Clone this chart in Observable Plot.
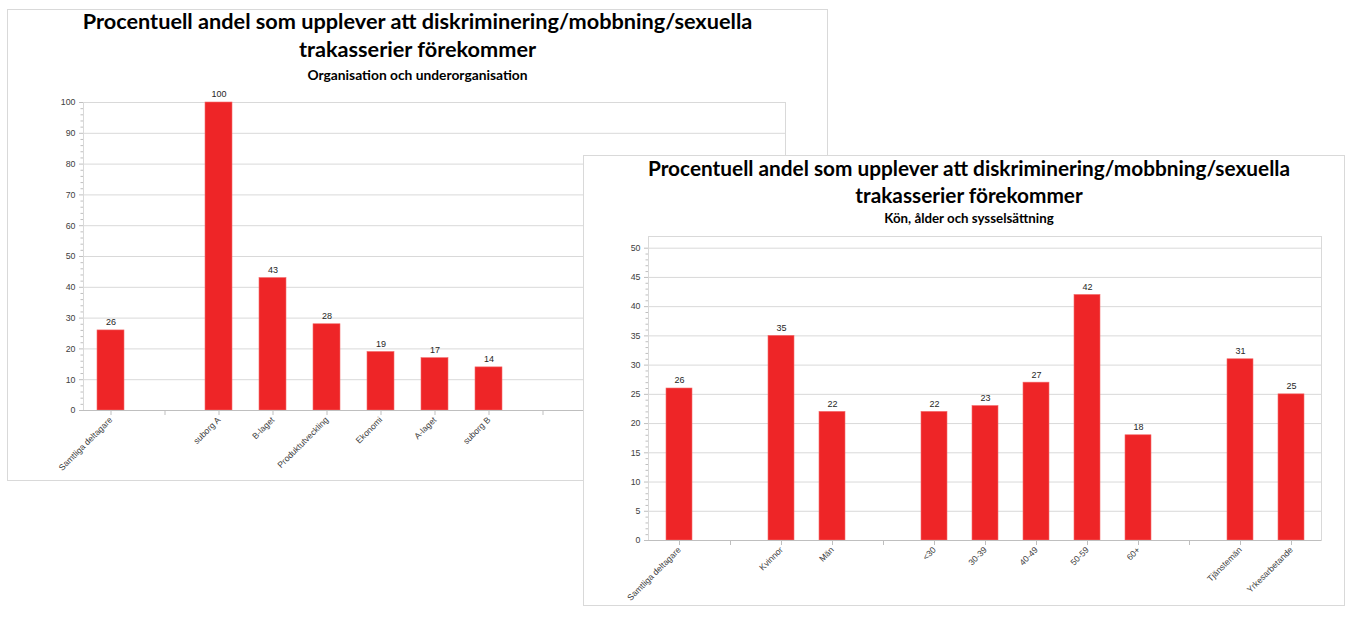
<!DOCTYPE html>
<html>
<head>
<meta charset="utf-8">
<script src="https://cdn.jsdelivr.net/npm/d3@7"></script>
<script src="https://cdn.jsdelivr.net/npm/@observablehq/plot@0.6"></script>
<style>
  html, body { margin: 0; padding: 0; background: #ffffff; }
  body { width: 1366px; height: 625px; position: relative; overflow: hidden; font-family: Lato, "Open Sans", sans-serif; }
  .panel { position: absolute; box-sizing: border-box; border: 1px solid #d9d9d9; background: #ffffff; }
  .t { position: absolute; left: 0; right: 0; text-align: center; font-weight: bold; color: #000; white-space: nowrap; }
  .panel svg { position: absolute; left: 0; }
</style>
</head>
<body>
<div class="panel" id="p1" style="left:7px; top:9px; width:821px; height:472px;">
  <div class="t" style="top:-2px; font-size:21.7px; line-height:26px;">Procentuell andel som upplever att diskriminering/mobbning/sexuella</div>
  <div class="t" style="top:26px; font-size:21.7px; line-height:26px;">trakasserier förekommer</div>
  <div class="t" style="top:57px; font-size:13.8px; line-height:16px;">Organisation och underorganisation</div>
  <div id="c1"></div>
</div>
<div class="panel" id="p2" style="left:583px; top:155px; width:762px; height:451px;">
  <div class="t" style="top:-1px; left:10px; font-size:20.8px; line-height:26px;">Procentuell andel som upplever att diskriminering/mobbning/sexuella</div>
  <div class="t" style="top:26px; left:10px; font-size:20.8px; line-height:26px;">trakasserier förekommer</div>
  <div class="t" style="top:54px; left:10px; font-size:13.3px; line-height:16px;">Kön, ålder och sysselsättning</div>
  <div id="c2"></div>
</div>
<script>
// ---- Data: chart 1 (Organisation och underorganisation) ----
const labels1 = ["Samtliga deltagare", "", "suborg A", "B-laget", "Produktutveckling", "Ekonomi", "A-laget", "suborg B", "", "", "", "", ""];
const values1 = [26, null, 100, 43, 28, 19, 17, 14, null, null, null, null, null];
const yTicks1 = [0, 10, 20, 30, 40, 50, 60, 70, 80, 90, 100];

// ---- Data: chart 2 (Kön, ålder och sysselsättning) ----
const labels2 = ["Samtliga deltagare", "", "Kvinnor", "Män", "", "<30", "30-39", "40-49", "50-59", "60+", "", "Tjänstemän", "Yrkesarbetande"];
const values2 = [26, null, 35, 22, null, 22, 23, 27, 42, 18, null, 31, 25];
const yTicks2 = [0, 5, 10, 15, 20, 25, 30, 35, 40, 45, 50];

const RED = "#ee2527";
const GRID = "#d9d9d9";
const AXIS = "#bfbfbf";
const TXT = "#404040";

function makeChart(labels, values, yTicks, yMax, minorStep, opts) {
  const rows = labels.map((l, i) => ({i, label: l, value: values[i]}));
  const bars = rows.filter(d => d.value != null);
  const minor = d3.range(0, yTicks[yTicks.length - 1] + 1e-9, minorStep).filter(v => !yTicks.includes(v));
  return Plot.plot({
    width: opts.width,
    height: opts.height,
    marginLeft: opts.ml,
    marginRight: opts.mr,
    marginTop: opts.mt,
    marginBottom: opts.mb,
    style: {fontFamily: "'Liberation Sans', Arial, sans-serif", fontSize: "8.5px", color: TXT, background: "transparent"},
    x: {type: "band", domain: rows.map(d => d.i), paddingInner: 0.5, paddingOuter: 0.25, label: null},
    y: {domain: [0, yMax], label: null},
    marks: [
      Plot.frame({stroke: GRID, strokeOpacity: 1}),
      Plot.gridY(yTicks, {stroke: GRID, strokeOpacity: 1, strokeWidth: 1}),
      Plot.axisY(minor, {tickSize: 2.5, stroke: AXIS, tickFormat: () => ""}),
      Plot.axisY(yTicks, {tickSize: 4, tickPadding: 4, stroke: AXIS, fill: TXT, fontSize: 8.8}),
      Plot.barY(bars, {x: "i", y: "value", fill: RED, stroke: "#f36b6b", strokeWidth: 0.6}),
      Plot.text(bars, {x: "i", y: "value", text: d => String(d.value), dy: -8, fill: "#262626", fontSize: 9}),
      Plot.axisX({tickSize: 5, tickRotate: -45, tickPadding: 3, stroke: AXIS, fill: TXT, fontSize: 8.6,
                  tickFormat: i => labels[i]}),
      Plot.ruleY([0], {stroke: AXIS, strokeWidth: 1}),
      Plot.ruleX([0], {x: () => null, frameAnchor: "left", stroke: AXIS})
    ]
  });
}

const c1 = makeChart(labels1, values1, yTicks1, 100, 2, {width: 811, height: 388, ml: 75, mr: 34, mt: 12, mb: 68});
c1.style.top = "80px";
document.getElementById("c1").appendChild(c1);

const c2 = makeChart(labels2, values2, yTicks2, 52, 1, {width: 750, height: 374, ml: 64, mr: 13, mt: 8, mb: 62});
c2.style.top = "72px";
document.getElementById("c2").appendChild(c2);
</script>
</body>
</html>
